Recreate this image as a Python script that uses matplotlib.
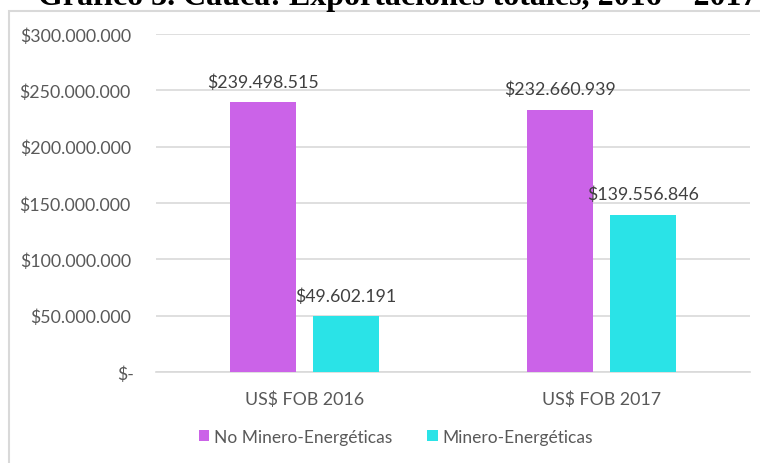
import matplotlib
matplotlib.use("Agg")
import matplotlib.pyplot as plt
import matplotlib.transforms as mtransforms
from matplotlib.patches import Rectangle
import numpy as np

categories = ["US$ FOB 2016", "US$ FOB 2017"]
no_minero = [239498515, 232660939]
minero = [49602191, 139556846]
series_names = ["No Minero-Energéticas", "Minero-Energéticas"]
yticks = [0, 50e6, 100e6, 150e6, 200e6, 250e6, 300e6]
title = "Gráfico 3. Cauca: Exportaciones totales, 2016 – 2017"

purple = "#CB63E8"
cyan = "#2AE3E7"
grid_col = "#D9D9D9"
text_col = "#595959"
label_col = "#404040"


def money(v):
    if v == 0:
        return "$-"
    return "$" + f"{int(v):,}".replace(",", ".")


plt.rcParams["font.family"] = ["Lato", "DejaVu Sans"]

fig = plt.figure(figsize=(7.6, 4.64), dpi=100)
ax = fig.add_axes([0.205, 0.196, 0.782, 0.7286])

x = np.arange(len(categories))
w = 0.222
off = 0.14
b1 = ax.bar(x - off, no_minero, w, color=purple, label=series_names[0], zorder=3)
b2 = ax.bar(x + off, minero, w, color=cyan, label=series_names[1], zorder=3)

for bars in (b1, b2):
    for rect in bars:
        h = rect.get_height()
        ax.annotate(money(h), (rect.get_x() + rect.get_width() / 2, h),
                    xytext=(0, 9), textcoords="offset points",
                    ha="center", va="bottom", fontsize=12.8, color=label_col)

ax.set_xlim(-0.5, 1.5)
ax.set_ylim(0, 300e6)
ax.set_yticks(yticks)
ax.set_yticklabels([money(v) for v in yticks])
ax.set_xticks(x)
ax.set_xticklabels(categories)
ax.tick_params(axis="both", length=0, labelsize=12.8, colors=text_col)
ax.tick_params(axis="y", pad=18)
ax.tick_params(axis="x", pad=13)
ax.grid(axis="y", color=grid_col, linewidth=1.2, zorder=0)
for s in ["top", "right", "left"]:
    ax.spines[s].set_visible(False)
ax.spines["bottom"].set_color(grid_col)
ax.spines["bottom"].set_linewidth(1.2)

# the "$-" label sits a little further right in the original
zl = ax.yaxis.get_major_ticks()[0].label1
zl.set_transform(zl.get_transform() + mtransforms.ScaledTranslation(0.03, 0, fig.dpi_scale_trans))

leg = fig.legend(loc="center", bbox_to_anchor=(396 / 760, 1 - 438 / 464), ncol=2,
                 frameon=False, fontsize=12.5, handlelength=0.6, handleheight=0.6,
                 handletextpad=0.3, columnspacing=2.0)
for t in leg.get_texts():
    t.set_color(text_col)

fig.patches.append(Rectangle((9 / 760, -0.1), 1.0, 1.1 - 12 / 464, transform=fig.transFigure,
                             fill=False, edgecolor=grid_col, linewidth=1.5))

# title is cut at the top edge, as in the original screenshot
fig.text(398 / 760, 1 - 4.5 / 464, title, ha="center", va="baseline",
         fontsize=23, fontweight="bold", family="Liberation Serif")

fig.savefig("out.png", dpi=100)
